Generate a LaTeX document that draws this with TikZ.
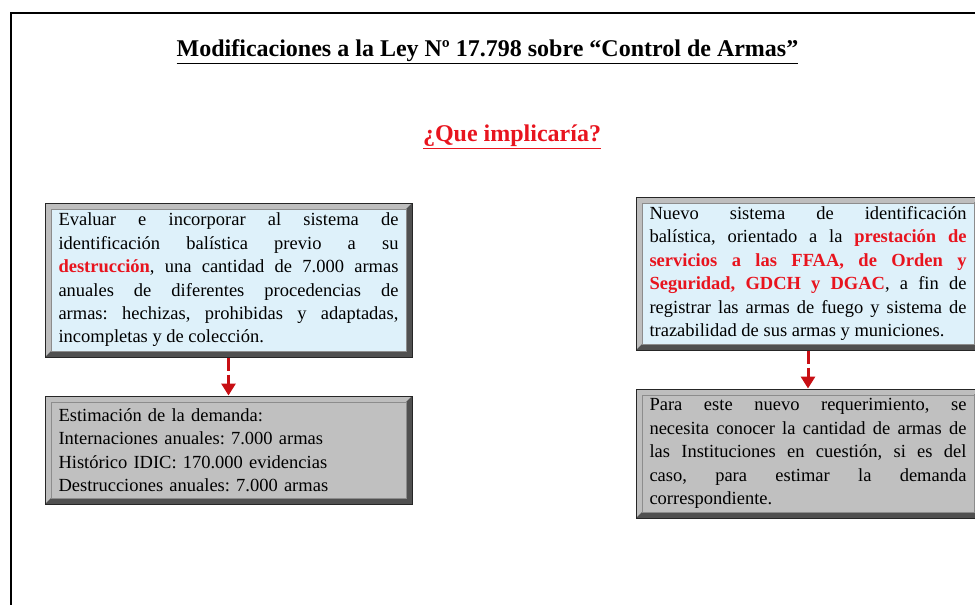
\documentclass[tikz,border=0pt]{standalone}
\usepackage{fontspec}
\setmainfont{Liberation Serif}
\usetikzlibrary{positioning,arrows.meta}
\frenchspacing

\definecolor{alertred}{RGB}{232,20,30}
\definecolor{arrowred}{RGB}{200,15,20}
\definecolor{facesky}{RGB}{222,241,250}
\definecolor{facegray}{RGB}{192,192,192}
\definecolor{bevellight}{RGB}{190,190,190}
\definecolor{beveldark}{RGB}{80,80,80}

\tikzset{
  bevelbox/.style={rectangle, draw=black!85, line width=1pt, inner xsep=13.5pt, inner ysep=6pt,
    font=\fontsize{18.5}{23.4}\selectfont, align=justify,
    path picture={
      \coordinate (bnw) at (path picture bounding box.north west);
      \coordinate (bse) at (path picture bounding box.south east);
      \fill[bevellight] (bnw) -- (bse |- bnw) -- ([shift={(-6pt,-6pt)}]bse |- bnw) -- ([shift={(6pt,-6pt)}]bnw)
        -- ([shift={(6pt,6pt)}]bnw |- bse) -- (bnw |- bse) -- cycle;
      \fill[beveldark] (bse) -- (bse |- bnw) -- ([shift={(-6pt,-6pt)}]bse |- bnw) -- ([shift={(-6pt,6pt)}]bse)
        -- ([shift={(6pt,6pt)}]bnw |- bse) -- (bnw |- bse) -- cycle;
      \draw[black!45, line width=0.4pt] ([shift={(6pt,-6pt)}]bnw) rectangle ([shift={(-6pt,6pt)}]bse);
    }},
  flowarrow/.style={arrowred, line width=3pt, dash pattern=on 13pt off 4pt, -{Triangle[length=12pt,width=14pt]}},
  heading/.style={font=\fontsize{24}{28}\selectfont\bfseries}
}
\newcommand{\redbold}[1]{{\bfseries\color{alertred}#1}}

\begin{document}
\begin{tikzpicture}[x=1pt, y=-1pt]
\useasboundingbox (0,0) rectangle (975,605);

% page frame
\draw[line width=2pt] (11,640) -- (11,13) -- (1000,13);

% headings
\node (titulo) [heading] at (487.5,52) {\underline{Modificaciones a la Ley Nº 17.798 sobre “Control de Armas”}};
\node (pregunta) [heading, text=alertred] at (512,137) {\underline{¿Que implicaría?}};

% left column
\node (evaluar) [bevelbox, fill=facesky, text width=340pt, minimum height=154pt] at (228.5,280) {Evaluar e incorporar al sistema de\linebreak identificación balística previo a su\linebreak \redbold{destrucción}, una cantidad de 7.000 armas\linebreak anuales de diferentes procedencias de\linebreak armas: hechizas, prohibidas y adaptadas,\linebreak incompletas y de colección.};

\node (estimacion) [bevelbox, fill=facegray, text width=340pt, minimum height=108pt, align=left, below=38pt of evaluar] {Estimación de la demanda:\\ Internaciones anuales: 7.000 armas\\ Histórico IDIC: 170.000 evidencias\\ Destrucciones anuales: 7.000 armas};

% right column
\node (nuevo) [bevelbox, fill=facesky, text width=317pt, minimum height=153pt] at (808,273.5) {Nuevo sistema de identificación\linebreak balística, orientado a la \redbold{prestación de\linebreak servicios a las FFAA, de Orden y\linebreak Seguridad, GDCH y DGAC}, a fin de\linebreak registrar las armas de fuego y sistema de\linebreak trazabilidad de sus armas y municiones.};

\node (requerimiento) [bevelbox, fill=facegray, text width=317pt, minimum height=129pt, below=38pt of nuevo] {Para este nuevo requerimiento, se\linebreak necesita conocer la cantidad de armas de\linebreak las Instituciones en cuestión, si es del\linebreak caso, para estimar la demanda\linebreak correspondiente.};

\draw[flowarrow] (evaluar) -- (estimacion);
\draw[flowarrow] (nuevo) -- (requerimiento);

\end{tikzpicture}
\end{document}
